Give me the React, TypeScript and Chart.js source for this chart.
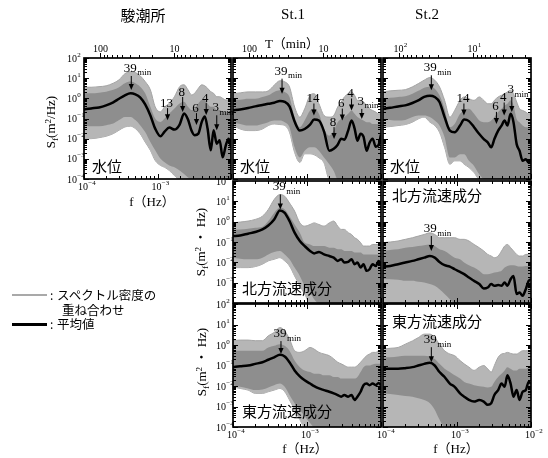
import React, { useEffect, useRef } from "react";
import { Chart, registerables } from "chart.js";

Chart.register(...registerables);

const W = 548;
const H = 458;
const SERIF = "'Liberation Serif','DejaVu Serif','Noto Sans CJK JP',serif";
const CJK = "'Noto Sans CJK JP','Noto Sans CJK SC',sans-serif";

// frequency grid (Hz)
const FREQ = [1.0e-4, 1.25e-4, 1.6e-4, 2.0e-4, 2.5e-4, 3.0e-4, 3.6e-4, 4.3e-4, 5.0e-4, 5.8e-4, 6.8e-4, 8.0e-4, 9.3e-4, 1.1e-3, 1.25e-3, 1.45e-3, 1.7e-3, 2.0e-3, 2.3e-3, 2.6e-3, 2.9e-3, 3.2e-3, 3.6e-3, 4.0e-3, 4.4e-3, 4.8e-3, 5.3e-3, 5.8e-3, 6.4e-3, 7.0e-3, 7.7e-3, 8.5e-3, 9.3e-3, 1.0e-2];

// tick labels
const Y_EXP_ALL = [2, 1, 0, -1, -2, -3, -4];
const Y_EXP_MID = [2, 1, 0, -1, -2, -3];
const F_EXP_2 = [-4, -3];
const F_EXP_3 = [-4, -3, -2];
const T_MAJOR = [100, 10];
const T_MINOR = [90, 80, 70, 60, 50, 40, 30, 20, 9, 8, 7, 6, 5, 4, 3, 2];

// ---- values are log10 of spectral density ----
// 駿潮所 水位
const TG_WL_MEAN = [-0.55, -0.5, -0.45, -0.35, -0.2, -0.02, 0.15, 0.25, 0.2, 0.05, -0.3, -0.85, -1.5, -1.88, -1.65, -1.45, -1.55, -1.3, -0.75, -1.05, -1.6, -1.83, -1.75, -1.17, -0.9, -1.5, -2.58, -1.58, -2.25, -2.08, -2.92, -2.33, -2.0, -2.42];
const TG_WL_OUT_HI = [0.55, 0.55, 0.58, 0.62, 0.75, 0.92, 1.22, 1.33, 1.28, 1.12, 0.83, 0.42, -0.42, -0.67, -0.42, -0.25, 0.08, 0.58, 0.67, 0.42, 0.17, 0.25, 0.5, 0.67, 0.62, 0.5, 0.33, 0.25, 0.08, 0.08, 0, -0.08, -0.08, -0.17];
const TG_WL_CORE_HI = [0.25, 0.25, 0.28, 0.33, 0.42, 0.55, 0.75, 0.83, 0.75, 0.58, 0.25, -0.42, -1, -1.17, -1, -0.75, -0.5, -0.25, -0.17, -0.42, -0.58, -0.5, -0.25, -0.08, -0.08, -0.25, -0.42, -0.42, -0.58, -0.58, -0.67, -0.67, -0.67, -0.67];
const TG_WL_CORE_LO = [-1.33, -1.38, -1.38, -1.33, -1.25, -1.08, -0.92, -0.92, -1.08, -1.33, -1.67, -2.17, -2.58, -3, -3.17, -3.33, -3.42, -3.58, -3.75, -3.92, -4, -4, -4, -4, -4, -4, -4, -4, -4, -4, -4, -4, -4, -4];
const TG_WL_OUT_LO = [-2, -2, -1.95, -1.88, -1.75, -1.58, -1.42, -1.38, -1.5, -1.75, -2.17, -2.58, -3.08, -3.33, -3.42, -3.58, -3.83, -4, -4, -4, -4, -4, -4, -4, -4, -4, -4, -4, -4, -4, -4, -4, -4, -4];

// St.1 水位
const S1_WL_MEAN = [-0.6, -0.55, -0.48, -0.4, -0.33, -0.27, -0.22, -0.13, -0.17, -0.4, -1.15, -1.6, -1.52, -1.3, -1.05, -1.1, -1.65, -2.6, -2.5, -2.3, -2.0, -2.05, -1.6, -1.1, -1.5, -2.1, -1.75, -1.9, -2.6, -2.2, -2.0, -2.4, -2.3, -1.8];
const S1_WL_OUT_HI = [0.23, 0.27, 0.32, 0.32, 0.32, 0.37, 0.65, 0.87, 0.82, 0.57, -0.43, -0.93, -0.52, 0.15, 0.23, -0.27, -0.85, -0.93, -0.85, -0.43, -0.18, 0.07, 0.23, 0.32, 0.15, -0.1, -0.1, -0.18, -0.35, -0.52, -0.6, -0.68, -0.77, -0.77];
const S1_WL_CORE_HI = [-0.1, -0.07, -0.02, -0.02, 0.07, 0.15, 0.32, 0.4, 0.32, 0.07, -0.93, -1.43, -1.1, -0.6, -0.52, -0.77, -1.52, -1.85, -1.6, -1.18, -1.02, -0.93, -0.77, -0.6, -0.77, -0.93, -1.02, -1.1, -1.18, -1.18, -1.27, -1.27, -1.27, -1.27];
const S1_WL_CORE_LO = [-1.18, -1.27, -1.35, -1.35, -1.27, -1.18, -1.1, -1.1, -1.18, -1.43, -2.43, -2.93, -2.6, -2.43, -2.43, -2.6, -2.93, -3.27, -3.6, -4, -4, -4, -4, -4, -4, -4, -4, -4, -4, -4, -4, -4, -4, -4];
const S1_WL_OUT_LO = [-1.35, -1.52, -1.6, -1.6, -1.52, -1.35, -1.27, -1.3, -1.35, -1.68, -2.68, -3.18, -2.75, -2.75, -2.8, -2.95, -3.2, -4, -4, -4, -4, -4, -4, -4, -4, -4, -4, -4, -4, -4, -4, -4, -4, -4];

// St.2 水位
const S2_WL_MEAN = [-0.52, -0.47, -0.4, -0.35, -0.23, -0.1, 0.07, 0.13, 0.07, -0.18, -0.93, -1.6, -1.68, -1.35, -1.05, -1.13, -1.43, -1.77, -2.02, -2.18, -2.43, -2.02, -1.6, -1.35, -1.1, -1.35, -0.77, -1.18, -2.27, -2.6, -3.1, -3.02, -3.18, -3.1];
const S2_WL_OUT_HI = [0.32, 0.37, 0.4, 0.43, 0.57, 0.73, 0.9, 1.03, 0.9, 0.57, -0.1, -0.93, -0.6, -0.1, 0.07, -0.02, -0.1, 0.07, -0.1, -0.27, -0.27, -0.1, 0.07, 0.15, 0.23, 0.32, 0.4, 0.23, -0.18, -0.52, -0.6, -0.68, -0.77, -0.77];
const S2_WL_CORE_HI = [-0.02, 0.03, 0.07, 0.1, 0.23, 0.37, 0.53, 0.57, 0.48, 0.15, -0.52, -1.43, -1.27, -0.77, -0.6, -0.52, -0.77, -1.1, -1.18, -1.18, -1.1, -0.93, -0.68, -0.52, -0.35, -0.27, -0.1, -0.35, -1.02, -1.18, -1.35, -1.43, -1.43, -1.43];
const S2_WL_CORE_LO = [-1.02, -1.07, -1.1, -1.07, -0.93, -0.85, -0.85, -0.93, -1.1, -1.35, -1.93, -2.93, -2.93, -2.77, -2.77, -3.1, -3.35, -3.77, -4, -4, -4, -4, -4, -4, -4, -4, -4, -4, -4, -4, -4, -4, -4, -4];
const S2_WL_OUT_LO = [-1.43, -1.4, -1.35, -1.3, -1.18, -1.02, -0.93, -1.18, -1.35, -1.68, -2.43, -3.27, -3.1, -3.1, -3.27, -3.43, -3.68, -4, -4, -4, -4, -4, -4, -4, -4, -4, -4, -4, -4, -4, -4, -4, -4, -4];

// St.1 北方流速成分
const S1_N_MEAN = [-0.71, -0.68, -0.59, -0.51, -0.38, -0.19, 0.11, 0.55, 0.43, 0.03, -0.54, -0.95, -1.2, -1.44, -1.56, -1.49, -1.61, -1.69, -1.77, -1.93, -1.85, -2.01, -1.98, -1.85, -2.09, -2.01, -2.26, -2.09, -2.42, -2.34, -2.09, -2.18, -1.93, -2.09];
const S1_N_OUT_HI = [-0.06, -0.02, 0.03, 0.11, 0.27, 0.6, 1.09, 1.33, 1.25, 0.92, 0.52, -0.06, -0.22, -0.14, -0.06, -0.14, -0.22, -0.06, 0.03, -0.22, -0.38, -0.38, -0.54, -0.63, -0.79, -0.87, -1.03, -1.2, -1.2, -1.2, -1.12, -1.12, -1.12, -1.12];
const S1_N_CORE_HI = [-0.38, -0.38, -0.35, -0.3, -0.25, 0.03, 0.43, 0.68, 0.6, 0.27, -0.14, -0.54, -1.03, -1.12, -1.2, -1.2, -1.2, -1.28, -1.28, -1.36, -1.36, -1.44, -1.44, -1.44, -1.52, -1.52, -1.52, -1.61, -1.61, -1.61, -1.61, -1.61, -1.61, -1.61];
const S1_N_CORE_LO = [-1.77, -1.82, -1.85, -1.85, -1.77, -1.61, -1.49, -1.44, -1.61, -1.85, -2.26, -2.67, -3.15, -3.48, -3.81, -4, -4, -4, -4, -4, -4, -4, -4, -4, -4, -4, -4, -4, -4, -4, -4, -4, -4, -4];
const S1_N_OUT_LO = [-2.26, -2.26, -2.26, -2.21, -2.09, -1.93, -1.85, -1.77, -1.93, -2.18, -2.67, -3.15, -3.56, -4, -4, -4, -4, -4, -4, -4, -4, -4, -4, -4, -4, -4, -4, -4, -4, -4, -4, -4, -4, -4];

// St.2 北方流速成分
const S2_N_MEAN = [-2.21, -2.18, -2.09, -2.01, -1.93, -1.85, -1.77, -1.69, -1.77, -1.98, -2.14, -2.21, -2.34, -2.47, -2.58, -2.75, -2.91, -3.07, -3.29, -3.24, -3.07, -3.15, -3.12, -3.15, -2.99, -3.15, -2.83, -2.67, -3.56, -3.48, -3.64, -3.32, -2.91, -2.83];
const S2_N_OUT_HI = [-1.03, -1.0, -0.95, -0.87, -0.79, -0.71, -0.63, -0.55, -0.63, -0.79, -0.79, -0.79, -0.79, -0.87, -0.87, -0.95, -1.12, -1.28, -1.44, -1.61, -1.69, -1.77, -1.69, -1.44, -1.2, -1.12, -1.28, -1.44, -1.61, -1.69, -1.69, -1.61, -1.61, -1.52];
const S2_N_CORE_HI = [-1.44, -1.39, -1.36, -1.28, -1.25, -1.2, -1.16, -1.12, -1.2, -1.36, -1.44, -1.61, -1.77, -1.85, -2.01, -2.14, -2.26, -2.42, -2.58, -2.58, -2.55, -2.5, -2.47, -2.42, -2.26, -2.18, -2.14, -2.14, -2.18, -2.21, -2.21, -2.18, -2.18, -2.18];
const S2_N_CORE_LO = [-2.83, -2.83, -2.86, -2.91, -2.91, -2.96, -2.99, -3.07, -3.15, -3.32, -3.56, -3.81, -4, -4, -4, -4, -4, -4, -4, -4, -4, -4, -4, -4, -4, -4, -4, -4, -4, -4, -4, -4, -4, -4];
const S2_N_OUT_LO = [-4, -4, -4, -4, -4, -4, -4, -4, -4, -4, -4, -4, -4, -4, -4, -4, -4, -4, -4, -4, -4, -4, -4, -4, -4, -4, -4, -4, -4, -4, -4, -4, -4, -4];

// St.1 東方流速成分
const S1_E_MEAN = [-1.08, -1.04, -1.0, -0.92, -0.84, -0.72, -0.6, -0.48, -0.56, -0.84, -1.24, -1.53, -1.72, -1.88, -2.01, -2.12, -2.2, -2.28, -2.36, -2.44, -2.52, -2.44, -2.52, -2.44, -2.68, -2.52, -2.28, -1.96, -1.88, -1.96, -1.88, -1.96, -1.85, -1.96];
const S1_E_OUT_HI = [0.21, 0.24, 0.24, 0.21, 0.21, 0.45, 0.61, 0.85, 0.69, 0.29, -0.28, -0.36, -0.28, -0.12, -0.2, -0.36, -0.44, -0.52, -0.68, -0.84, -0.92, -1.0, -1.08, -1.08, -1.08, -1.0, -0.84, -0.68, -0.52, -0.44, -0.36, -0.36, -0.28, -0.28];
const S1_E_CORE_HI = [-0.28, -0.28, -0.28, -0.28, -0.28, -0.12, -0.04, 0.04, -0.04, -0.28, -0.76, -1.08, -1.24, -1.32, -1.4, -1.4, -1.48, -1.48, -1.56, -1.56, -1.64, -1.64, -1.64, -1.64, -1.64, -1.56, -1.32, -1.08, -1.0, -1.0, -0.95, -0.92, -0.92, -0.92];
const S1_E_CORE_LO = [-1.96, -2.04, -2.12, -2.2, -2.17, -2.07, -1.96, -1.88, -2.04, -2.44, -2.84, -3.16, -3.48, -3.8, -4, -4, -4, -4, -4, -4, -4, -4, -4, -4, -4, -4, -4, -4, -4, -4, -4, -4, -4, -4];
const S1_E_OUT_LO = [-2.04, -2.12, -2.2, -2.36, -2.36, -2.28, -2.2, -2.12, -2.28, -2.68, -3.16, -3.64, -4, -4, -4, -4, -4, -4, -4, -4, -4, -4, -4, -4, -4, -4, -4, -4, -4, -4, -4, -4, -4, -4];

// St.2 東方流速成分
const S2_E_MEAN = [-1.16, -1.16, -1.16, -1.13, -1.08, -1.0, -0.92, -0.87, -1.0, -1.32, -1.56, -1.88, -2.04, -2.36, -2.52, -2.68, -2.76, -2.68, -2.76, -2.92, -2.84, -2.44, -2.2, -1.88, -2.04, -1.48, -1.88, -2.52, -2.2, -2.68, -2.28, -2.2, -1.8, -1.88];
const S2_E_OUT_HI = [-0.2, -0.16, -0.12, 0.04, 0.2, 0.36, 0.53, 0.53, 0.36, 0.04, -0.28, -0.44, -0.52, -0.76, -0.92, -1.08, -1.24, -1.08, -1.0, -1.16, -1.32, -1.0, -0.6, -0.44, -0.41, -0.36, -0.41, -0.44, -0.44, -0.36, -0.28, -0.28, -0.28, -0.28];
const S2_E_CORE_HI = [-0.6, -0.6, -0.56, -0.52, -0.52, -0.52, -0.52, -0.56, -0.68, -0.92, -1.16, -1.32, -1.48, -1.64, -1.8, -1.88, -1.96, -2.01, -2.04, -2.07, -2.04, -1.8, -1.56, -1.4, -1.24, -1.08, -1.16, -1.24, -1.24, -1.16, -1.16, -1.16, -1.08, -1.08];
const S2_E_CORE_LO = [-2.36, -2.39, -2.44, -2.49, -2.52, -2.6, -2.68, -2.84, -3.16, -3.64, -4, -4, -4, -4, -4, -4, -4, -4, -4, -4, -4, -4, -4, -4, -4, -4, -4, -4, -4, -4, -4, -4, -4, -4];
const S2_E_OUT_LO = [-4, -4, -4, -4, -4, -4, -4, -4, -4, -4, -4, -4, -4, -4, -4, -4, -4, -4, -4, -4, -4, -4, -4, -4, -4, -4, -4, -4, -4, -4, -4, -4, -4, -4];

// peak annotations: frequency (Hz), arrow tip value, label
type Ann = { f: number; tip: number; len: number; text: string; sub?: string };
const TG_WL_ANN: Ann[] = [
  { f: 4.4e-4, tip: 2.6, len: 14, text: "39", sub: "min" },
  { f: 1.37e-3, tip: 0.083, len: 12, text: "13" },
  { f: 2.2e-3, tip: 0.21, len: 15, text: "8" },
  { f: 3.39e-3, tip: 0.047, len: 12, text: "6" },
  { f: 4.6e-3, tip: 0.148, len: 12, text: "4" },
  { f: 6.4e-3, tip: 0.026, len: 15, text: "3", sub: "min" },
];
const S1_WL_ANN: Ann[] = [
  { f: 4.6e-4, tip: 1.7, len: 15, text: "39", sub: "min" },
  { f: 1.24e-3, tip: 0.141, len: 12, text: "14" },
  { f: 2.32e-3, tip: 0.0095, len: 12, text: "8" },
  { f: 3.0e-3, tip: 0.079, len: 12, text: "6" },
  { f: 4.0e-3, tip: 0.25, len: 12, text: "4" },
  { f: 5.5e-3, tip: 0.095, len: 10, text: "3", sub: "min" },
];
const S2_WL_ANN: Ann[] = [
  { f: 4.5e-4, tip: 2.5, len: 15, text: "39", sub: "min" },
  { f: 1.24e-3, tip: 0.141, len: 12, text: "14" },
  { f: 3.41e-3, tip: 0.054, len: 12, text: "6" },
  { f: 4.34e-3, tip: 0.141, len: 13, text: "4" },
  { f: 5.5e-3, tip: 0.21, len: 15, text: "3", sub: "min" },
];
const S1_N_ANN: Ann[] = [{ f: 4.36e-4, tip: 4.0, len: 15, text: "39", sub: "min" }];
const S2_N_ANN: Ann[] = [{ f: 4.5e-4, tip: 0.036, len: 15, text: "39", sub: "min" }];
const S1_E_ANN: Ann[] = [{ f: 4.45e-4, tip: 0.36, len: 13, text: "39", sub: "min" }];
const S2_E_ANN: Ann[] = [{ f: 4.5e-4, tip: 0.145, len: 15, text: "39", sub: "min" }];

type PanelDef = {
  key: string;
  rect: [number, number, number, number];
  mean: number[];
  coreHi: number[];
  coreLo: number[];
  outHi: number[];
  outLo: number[];
  yExp: number[];
  xExp: number[];
  top: "plain" | "pow" | null;
  fTop: boolean;
  ann: Ann[];
};

const PANELS: PanelDef[] = [
  { key: "p1", rect: [84, 58, 231, 179], mean: TG_WL_MEAN, coreHi: TG_WL_CORE_HI, coreLo: TG_WL_CORE_LO, outHi: TG_WL_OUT_HI, outLo: TG_WL_OUT_LO, yExp: Y_EXP_ALL, xExp: F_EXP_2, top: "plain", fTop: false, ann: TG_WL_ANN },
  { key: "p2", rect: [233, 58, 381, 179], mean: S1_WL_MEAN, coreHi: S1_WL_CORE_HI, coreLo: S1_WL_CORE_LO, outHi: S1_WL_OUT_HI, outLo: S1_WL_OUT_LO, yExp: [], xExp: [], top: "plain", fTop: false, ann: S1_WL_ANN },
  { key: "p3", rect: [383, 58, 531, 179], mean: S2_WL_MEAN, coreHi: S2_WL_CORE_HI, coreLo: S2_WL_CORE_LO, outHi: S2_WL_OUT_HI, outLo: S2_WL_OUT_LO, yExp: [], xExp: [], top: "pow", fTop: false, ann: S2_WL_ANN },
  { key: "p4", rect: [233, 181, 381, 303], mean: S1_N_MEAN, coreHi: S1_N_CORE_HI, coreLo: S1_N_CORE_LO, outHi: S1_N_OUT_HI, outLo: S1_N_OUT_LO, yExp: Y_EXP_MID, xExp: [], top: null, fTop: true, ann: S1_N_ANN },
  { key: "p5", rect: [383, 181, 531, 303], mean: S2_N_MEAN, coreHi: S2_N_CORE_HI, coreLo: S2_N_CORE_LO, outHi: S2_N_OUT_HI, outLo: S2_N_OUT_LO, yExp: [], xExp: [], top: null, fTop: true, ann: S2_N_ANN },
  { key: "p6", rect: [233, 304, 381, 427], mean: S1_E_MEAN, coreHi: S1_E_CORE_HI, coreLo: S1_E_CORE_LO, outHi: S1_E_OUT_HI, outLo: S1_E_OUT_LO, yExp: Y_EXP_ALL, xExp: F_EXP_2, top: null, fTop: true, ann: S1_E_ANN },
  { key: "p7", rect: [383, 304, 531, 427], mean: S2_E_MEAN, coreHi: S2_E_CORE_HI, coreLo: S2_E_CORE_LO, outHi: S2_E_OUT_HI, outLo: S2_E_OUT_LO, yExp: [], xExp: F_EXP_3, top: null, fTop: true, ann: S2_E_ANN },
];

const toPts = (logs: number[]) => FREQ.map((f, i) => ({ x: f, y: Math.pow(10, logs[i]) }));

function drawPow(ctx: CanvasRenderingContext2D, e: number, x: number, baseline: number, mode: "right" | "center") {
  const es = e < 0 ? "\u2212" + -e : String(e);
  ctx.font = `10px ${SERIF}`;
  const w10 = ctx.measureText("10").width;
  const x0 = mode === "right" ? x - w10 : x - w10 / 2 - 1;
  ctx.textAlign = "left";
  ctx.textBaseline = "alphabetic";
  ctx.fillText("10", x0, baseline);
  ctx.font = `7px ${SERIF}`;
  ctx.fillText(es, x0 + w10 + 0.3, baseline - 5);
}

function makeDecor(p: PanelDef) {
  return {
    id: "decor" + p.key,
    afterDatasetsDraw(chart: any) {
      const ctx: CanvasRenderingContext2D = chart.ctx;
      const a = chart.chartArea;
      const xs = chart.scales.x;
      const ys = chart.scales.y;
      ctx.save();
      ctx.strokeStyle = "#000";
      ctx.fillStyle = "#000";
      ctx.lineWidth = 1;
      const seg = (x1: number, y1: number, x2: number, y2: number) => {
        ctx.beginPath();
        ctx.moveTo(x1, y1);
        ctx.lineTo(x2, y2);
        ctx.stroke();
      };
      // y ticks (both sides, inward)
      for (let e = -4; e <= 2; e++) {
        for (let m = 1; m <= 9; m++) {
          const v = m * Math.pow(10, e);
          if (v > 100.0001) continue;
          const py = Math.round(ys.getPixelForValue(v)) + 0.5;
          const L = m === 1 ? 5 : 3;
          seg(a.left, py, a.left + L, py);
          seg(a.right, py, a.right - L, py);
        }
      }
      // f ticks
      for (let e = -4; e <= -2; e++) {
        for (let m = 1; m <= 9; m++) {
          const v = m * Math.pow(10, e);
          if (v > 0.0100001) continue;
          const px = Math.round(xs.getPixelForValue(v)) + 0.5;
          const L = m === 1 ? 5 : 3;
          seg(px, a.bottom, px, a.bottom - L);
          if (p.fTop) seg(px, a.top, px, a.top + L);
        }
      }
      // period (T) axis on top row
      if (p.top) {
        for (const T of T_MINOR) {
          const px = Math.round(xs.getPixelForValue(1 / (60 * T))) + 0.5;
          seg(px, a.top, px, a.top - 3);
        }
        for (const T of T_MAJOR) {
          const px = Math.round(xs.getPixelForValue(1 / (60 * T))) + 0.5;
          seg(px, a.top, px, a.top - 5);
          if (p.top === "plain") {
            ctx.font = `10px ${SERIF}`;
            ctx.textAlign = "center";
            ctx.textBaseline = "alphabetic";
            ctx.fillText(String(T), px, a.top - 6);
          } else {
            drawPow(ctx, Math.round(Math.log10(T)), px, a.top - 6, "center");
          }
        }
      }
      // annotations
      for (const an of p.ann) {
        const px = xs.getPixelForValue(an.f);
        const tip = ys.getPixelForValue(an.tip);
        const top = tip - an.len;
        seg(px, top, px, tip - 4);
        ctx.beginPath();
        ctx.moveTo(px - 2.6, tip - 6);
        ctx.lineTo(px + 2.6, tip - 6);
        ctx.lineTo(px, tip);
        ctx.closePath();
        ctx.fill();
        ctx.font = `13px ${SERIF}`;
        ctx.textAlign = "center";
        ctx.textBaseline = "alphabetic";
        const tw = ctx.measureText(an.text).width;
        const base = an.sub ? top - 4 : top - 1.5;
        ctx.fillText(an.text, px - 1, base);
        if (an.sub) {
          ctx.font = `9px ${SERIF}`;
          ctx.textAlign = "left";
          ctx.fillText(an.sub, px - 1 + tw / 2 + 0.5, top - 0.5);
        }
      }
      // frame
      ctx.lineWidth = 1.7;
      ctx.strokeRect(a.left, a.top, a.right - a.left, a.bottom - a.top);
      // tick labels
      for (const e of p.yExp) {
        const py = ys.getPixelForValue(Math.pow(10, e));
        drawPow(ctx, e, a.left - 7, py + 3.5, "right");
      }
      for (const e of p.xExp) {
        const px = xs.getPixelForValue(Math.pow(10, e));
        drawPow(ctx, e, px, a.bottom + 11, "center");
      }
      ctx.restore();
    },
  };
}

function PanelChart({ p }: { p: PanelDef }) {
  const ref = useRef<HTMLCanvasElement | null>(null);
  useEffect(() => {
    if (!ref.current) return;
    const [l, t, r, b] = p.rect;
    const common = { pointRadius: 0, pointHoverRadius: 0, cubicInterpolationMode: "monotone", clip: 0 };
    const chart = new Chart(ref.current, {
      type: "line",
      data: {
        datasets: [
          { ...common, data: toPts(p.mean), borderColor: "#000", borderWidth: 2.5, fill: false },
          { ...common, data: toPts(p.coreHi), borderColor: "rgba(0,0,0,0)", borderWidth: 0, backgroundColor: "#8e8e8e", fill: "+1" },
          { ...common, data: toPts(p.coreLo), borderColor: "rgba(0,0,0,0)", borderWidth: 0, fill: false },
          { ...common, data: toPts(p.outHi), borderColor: "#a4a4a4", borderWidth: 1, backgroundColor: "#b6b6b6", fill: "+1" },
          { ...common, data: toPts(p.outLo), borderColor: "#a4a4a4", borderWidth: 1, fill: false },
        ] as any,
      },
      options: {
        responsive: false,
        animation: false,
        events: [],
        layout: { padding: { left: l, top: t, right: W - r, bottom: H - b } },
        plugins: { legend: { display: false }, tooltip: { enabled: false }, title: { display: false } },
        scales: {
          x: { type: "logarithmic", min: 1e-4, max: 1e-2, display: false },
          y: { type: "logarithmic", min: 1e-4, max: 100, display: false },
        },
      } as any,
      plugins: [makeDecor(p)],
    });
    return () => chart.destroy();
  }, [p]);
  return <canvas ref={ref} width={W} height={H} style={{ position: "absolute", left: 0, top: 0, width: W, height: H }} />;
}

function Txt(props: { x: number; y: number; size?: number; font?: string; left?: boolean; rot?: boolean; children: React.ReactNode }) {
  const { x, y, size = 13, font = SERIF, left = false, rot = false, children } = props;
  return (
    <div
      style={{
        position: "absolute",
        left: x,
        top: y,
        transform: `translate(${left ? "0" : "-50%"}, -50%)${rot ? " rotate(-90deg)" : ""}`,
        fontFamily: font,
        fontSize: size,
        lineHeight: 1,
        whiteSpace: "nowrap",
        color: "#000",
      }}
    >
      {children}
    </div>
  );
}

const Sub = ({ children }: { children: React.ReactNode }) => (
  <span style={{ fontSize: "70%", position: "relative", top: "0.3em" }}>{children}</span>
);
const Sup = ({ children }: { children: React.ReactNode }) => (
  <span style={{ fontSize: "70%", position: "relative", top: "-0.45em" }}>{children}</span>
);

export default function App() {
  return (
    <div style={{ position: "absolute", left: 0, top: 0, width: W, height: H, overflow: "hidden", background: "#fff" }}>
      {PANELS.map((p) => (
        <PanelChart key={p.key} p={p} />
      ))}
      {/* column titles */}
      <Txt x={143} y={14} size={15} font={CJK}>駿潮所</Txt>
      <Txt x={293} y={14} size={15}>St.1</Txt>
      <Txt x={427} y={14} size={15}>St.2</Txt>
      <Txt x={292} y={43} size={13}>T（min）</Txt>
      {/* axis titles */}
      <Txt x={51} y={122} size={13} rot>
        S<Sub>f</Sub>(m<Sup>2</Sup>/Hz)
      </Txt>
      <Txt x={201} y={242} size={13} rot>
        S<Sub>f</Sub>(m<Sup>2</Sup> ・ Hz)
      </Txt>
      <Txt x={202} y={362} size={13} rot>
        S<Sub>f</Sub>(m<Sup>2</Sup> ・ Hz)
      </Txt>
      <Txt x={152} y={201} size={13}>f（Hz）</Txt>
      <Txt x={305} y={448} size={13}>f（Hz）</Txt>
      <Txt x={456} y={448} size={13}>f（Hz）</Txt>
      {/* panel labels */}
      <Txt x={92} y={165} size={15} font={CJK} left>水位</Txt>
      <Txt x={240} y={165} size={15} font={CJK} left>水位</Txt>
      <Txt x={390} y={165} size={15} font={CJK} left>水位</Txt>
      <Txt x={242} y={287} size={15} font={CJK} left>北方流速成分</Txt>
      <Txt x={392} y={194} size={15} font={CJK} left>北方流速成分</Txt>
      <Txt x={242} y={410} size={15} font={CJK} left>東方流速成分</Txt>
      <Txt x={392} y={320} size={15} font={CJK} left>東方流速成分</Txt>
      {/* legend */}
      <div style={{ position: "absolute", left: 12, top: 294, width: 35, height: 1.5, background: "#a9a9a9" }} />
      <Txt x={50} y={295} size={12} font={CJK} left>:</Txt>
      <Txt x={57} y={295} size={12.5} font={CJK} left>スペクトル密度の</Txt>
      <Txt x={62} y={310} size={12.5} font={CJK} left>重ね合わせ</Txt>
      <div style={{ position: "absolute", left: 12, top: 323, width: 35, height: 2.5, background: "#000" }} />
      <Txt x={50} y={324} size={12} font={CJK} left>:</Txt>
      <Txt x={57} y={324} size={12.5} font={CJK} left>平均値</Txt>
    </div>
  );
}
